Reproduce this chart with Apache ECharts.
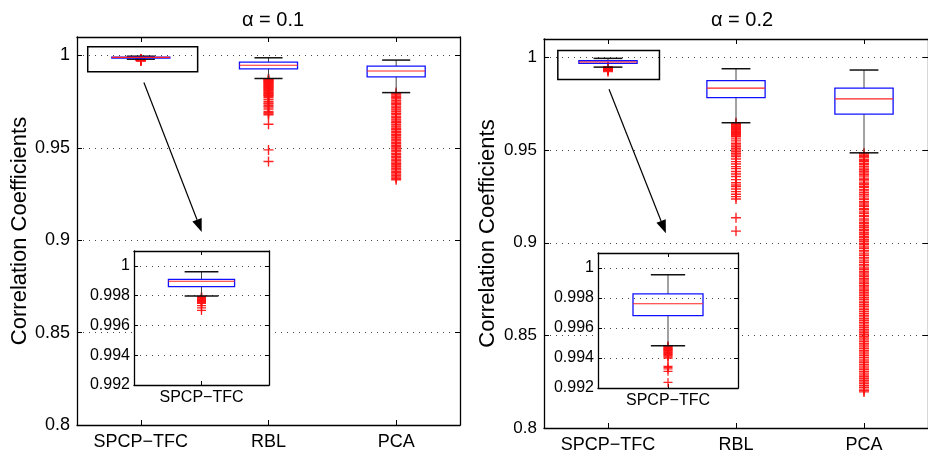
<!DOCTYPE html>
<html><head><meta charset="utf-8">
<script src="https://cdn.jsdelivr.net/npm/echarts/dist/echarts.min.js"></script>
<style>html,body{margin:0;padding:0;background:#fff}#c{width:928px;height:458px}</style>
</head><body><div id="c"></div>
<script>
// ---------------- DATA ----------------
const categories = ['SPCP\u2212TFC', 'RBL', 'PCA'];
const insetCategories = ['SPCP\u2212TFC'];
const titles = ['\u03b1 = 0.1', '\u03b1 = 0.2'];
const yAxisName = 'Correlation Coefficients';
const mainTicks = [0.8, 0.85, 0.9, 0.95, 1];
const insetTicks = [0.992, 0.994, 0.996, 0.998, 1];

// box statistics: [lower whisker, Q1, median, Q3, upper whisker]
const boxesA1 = [
  [0.99798, 0.99861, 0.99897, 0.99910, 0.99960],
  [0.98754, 0.99280, 0.99475, 0.99637, 0.99875],
  [0.97990, 0.98846, 0.99160, 0.99426, 0.99751]
];
const boxesA2 = [
  [0.99482, 0.99682, 0.99762, 0.99827, 0.99955],
  [0.96480, 0.97838, 0.98346, 0.98750, 0.99395],
  [0.94855, 0.96941, 0.97768, 0.98346, 0.99325]
];

// outliers (alpha = 0.1)
const outSpcpA1 = [0.99795, 0.99791, 0.99787, 0.99783, 0.99779, 0.99774, 0.99770, 0.99766, 0.99762, 0.99758, 0.99754, 0.99749, 0.99733, 0.99718, 0.99701];
const outRblA1 = [0.9874, 0.9871, 0.9868, 0.9865, 0.9862, 0.9859, 0.9856, 0.9852, 0.9849, 0.9845, 0.9842, 0.9838, 0.9835, 0.9831, 0.9827, 0.9823, 0.9819, 0.9815, 0.9811, 0.9807, 0.9803, 0.9799, 0.9795, 0.9791, 0.9787, 0.9783, 0.9779, 0.9772, 0.9762, 0.9751, 0.9743, 0.9737, 0.9728, 0.9721, 0.9710, 0.9697, 0.9690, 0.9684, 0.9679, 0.9628, 0.9489, 0.9426];
const outPcaA1 = [0.9799, 0.9793, 0.9786, 0.9778, 0.9771, 0.9765, 0.9757, 0.9748, 0.9741, 0.9735, 0.9726, 0.9719, 0.9710, 0.9704, 0.9696, 0.9687, 0.9681, 0.9672, 0.9666, 0.9657, 0.9651, 0.9641, 0.9636, 0.9627, 0.9619, 0.9613, 0.9604, 0.9598, 0.9589, 0.9583, 0.9574, 0.9568, 0.9559, 0.9553, 0.9544, 0.9538, 0.9529, 0.9523, 0.9514, 0.9507, 0.9499, 0.9493, 0.9484, 0.9478, 0.9469, 0.9463, 0.9454, 0.9447, 0.9439, 0.9433, 0.9424, 0.9417, 0.9410, 0.9402, 0.9396, 0.9387, 0.9381, 0.9372, 0.9365, 0.9358, 0.9350, 0.9342, 0.9335, 0.9327];

// outliers (alpha = 0.2)
const outSpcpA2 = [0.99482, 0.99478, 0.99474, 0.99470, 0.99466, 0.99462, 0.99458, 0.99454, 0.99450, 0.99446, 0.99441, 0.99436, 0.99431, 0.99425, 0.99420, 0.99414, 0.99407, 0.99400, 0.99344, 0.99338, 0.99327, 0.99311, 0.99237];
const outRblA2 = [0.9648, 0.9644, 0.9640, 0.9636, 0.9631, 0.9627, 0.9622, 0.9618, 0.9613, 0.9609, 0.9604, 0.9600, 0.9595, 0.9590, 0.9586, 0.9581, 0.9576, 0.9572, 0.9561, 0.9550, 0.9537, 0.9528, 0.9519, 0.9510, 0.9501, 0.9492, 0.9483, 0.9474, 0.9465, 0.9452, 0.9438, 0.9425, 0.9411, 0.9400, 0.9385, 0.9371, 0.9358, 0.9341, 0.9324, 0.9312, 0.9303, 0.9290, 0.9276, 0.9262, 0.9249, 0.9236, 0.9135, 0.9063];
const outPcaA2 = [0.9484, 0.9479, 0.9471, 0.9464, 0.9458, 0.9449, 0.9443, 0.9437, 0.9427, 0.9421, 0.9411, 0.9403, 0.9394, 0.9386, 0.9377, 0.9367, 0.9360, 0.9349, 0.9342, 0.9334, 0.9323, 0.9316, 0.9305, 0.9298, 0.9287, 0.9280, 0.9270, 0.9260, 0.9252, 0.9241, 0.9234, 0.9223, 0.9215, 0.9204, 0.9197, 0.9185, 0.9178, 0.9167, 0.9159, 0.9148, 0.9141, 0.9129, 0.9122, 0.9111, 0.9103, 0.9092, 0.9084, 0.9073, 0.9065, 0.9054, 0.9046, 0.9035, 0.9027, 0.9016, 0.9008, 0.8997, 0.8989, 0.8978, 0.8970, 0.8959, 0.8951, 0.8940, 0.8932, 0.8921, 0.8913, 0.8902, 0.8894, 0.8883, 0.8875, 0.8864, 0.8856, 0.8845, 0.8837, 0.8826, 0.8818, 0.8807, 0.8799, 0.8788, 0.8780, 0.8769, 0.8761, 0.8750, 0.8742, 0.8733, 0.8723, 0.8714, 0.8704, 0.8695, 0.8685, 0.8676, 0.8666, 0.8657, 0.8647, 0.8638, 0.8628, 0.8619, 0.8609, 0.8600, 0.8590, 0.8581, 0.8571, 0.8562, 0.8552, 0.8543, 0.8533, 0.8524, 0.8514, 0.8505, 0.8495, 0.8486, 0.8476, 0.8467, 0.8457, 0.8448, 0.8438, 0.8429, 0.8419, 0.8410, 0.8400, 0.8391, 0.8381, 0.8372, 0.8362, 0.8353, 0.8343, 0.8334, 0.8324, 0.8315, 0.8305, 0.8296, 0.8286, 0.8277, 0.8267, 0.8258, 0.8248, 0.8239, 0.8229, 0.8220, 0.8210, 0.8202, 0.8195];

// ---------------- LAYOUT / STYLE ----------------
const FONT = '"Liberation Sans", Arial, Helvetica, sans-serif';
const grids = [
  {left: 77, top: 37, width: 383, height: 388},   // main alpha 0.1
  {left: 134, top: 251, width: 135, height: 134}, // inset alpha 0.1
  {left: 544, top: 39, width: 387, height: 389},  // main alpha 0.2
  {left: 598, top: 253, width: 140, height: 135}  // inset alpha 0.2
];
// zoom rectangle + arrow annotations (x in category-band fractions, y in data units)
const annot = [
  {rx0: -0.416, rx1: 0.445, ryTop: 1.0047, ryBot: 0.9912, ax0: 0.024, ay0: 0.9854, ax1: 0.477, ay1: 0.9045},
  {rx0: -0.392, rx1: 0.402, ryTop: 1.0038, ryBot: 0.9881, ax0: 0.008, ay0: 0.9829, ax1: 0.452, ay1: 0.9052}
];
const PLUS = 'path://M4.3,0H5.7V4.3H10V5.7H5.7V10H4.3V5.7H0V4.3H4.3Z';
const fmt = v => String(Math.round(v * 1000) / 1000);

const xAxes = [], yAxes = [], series = [];

function addAxes(g, cats, isMain, yMin, yMax, yInt, xFs, yFs, name) {
  const z = isMain ? 0 : 4;
  const line = {show: true, onZero: false, lineStyle: {color: '#000', width: 1.3}};
  const tick = {show: true, inside: true, length: isMain ? 5 : 4, alignWithLabel: true, lineStyle: {color: '#000'}};
  xAxes.push({type: 'category', gridIndex: g, data: cats, position: 'bottom', z,
    axisLine: line, axisTick: tick,
    axisLabel: {color: '#000', fontSize: xFs, fontFamily: FONT, margin: isMain ? 8 : 5},
    splitLine: {show: false}});
  xAxes.push({type: 'category', gridIndex: g, data: cats, position: 'top', z,
    axisLine: line, axisTick: tick, axisLabel: {show: false}, splitLine: {show: false}});
  const yl = {type: 'value', gridIndex: g, min: yMin, max: yMax, interval: yInt, position: 'left', z,
    axisLine: line, axisTick: {show: true, inside: true, length: isMain ? 5 : 4, lineStyle: {color: '#000'}},
    axisLabel: {color: '#000', fontSize: yFs, fontFamily: FONT, margin: isMain ? 7 : 4, formatter: fmt, showMaxLabel: false},
    splitLine: {show: true, lineStyle: {color: '#444', type: [1, 5], width: 1}}};
  if (name) {
    Object.assign(yl, {name, nameLocation: 'middle', nameRotate: 90, nameGap: 45,
      nameTextStyle: {fontSize: 22, color: '#000', fontFamily: FONT}});
  }
  yAxes.push(yl);
  yAxes.push({type: 'value', gridIndex: g, min: yMin, max: yMax, interval: yInt, position: 'right', z,
    axisLine: line, axisTick: {show: true, inside: true, length: isMain ? 5 : 4, lineStyle: {color: '#000'}},
    axisLabel: {show: false}, splitLine: {show: false}});
}

function boxSeries(g, stats, boxFrac, capFrac, z) {
  return {type: 'custom', xAxisIndex: 2 * g, yAxisIndex: 2 * g, z, silent: true,
    data: stats.map((s, i) => [i].concat(s)),
    renderItem: (params, api) => {
      const i = api.value(0);
      const band = api.size([1, 0])[0];
      const y = v => api.coord([i, v])[1];
      const cx = api.coord([i, api.value(3)])[0];
      const yLo = y(api.value(1)), yQ1 = y(api.value(2)), yMed = y(api.value(3)), yQ3 = y(api.value(4)), yHi = y(api.value(5));
      const hb = band * boxFrac / 2, hc = band * capFrac / 2;
      const ln = (x1, y1, x2, y2, c, w) => ({type: 'line', shape: {x1, y1, x2, y2}, style: {stroke: c, lineWidth: w}});
      return {type: 'group', children: [
        ln(cx, yHi, cx, yQ3, '#444', 1),
        ln(cx, yQ1, cx, yLo, '#444', 1),
        ln(cx - hc, yHi, cx + hc, yHi, '#111', 1.5),
        ln(cx - hc, yLo, cx + hc, yLo, '#111', 1.5),
        {type: 'rect', shape: {x: cx - hb, y: yQ3, width: 2 * hb, height: Math.max(yQ1 - yQ3, 0.6)},
          style: {fill: 'none', stroke: '#1010ff', lineWidth: 1.3}},
        ln(cx - hb, yMed, cx + hb, yMed, '#ff2020', 1.1)
      ]};
    }};
}

function outlierSeries(g, cat, vals, size, z) {
  return {type: 'scatter', xAxisIndex: 2 * g, yAxisIndex: 2 * g, z, silent: true,
    symbol: PLUS, symbolSize: size, itemStyle: {color: '#ff1010', opacity: 0.92},
    data: vals.map(v => [cat, v])};
}

function coverSeries(g) {
  return {type: 'custom', xAxisIndex: 2 * g, yAxisIndex: 2 * g, z: 3, silent: true,
    data: [[0, 1]],
    renderItem: (params) => {
      const cs = params.coordSys;
      return {type: 'rect', shape: {x: cs.x, y: cs.y, width: cs.width, height: cs.height}, style: {fill: '#fff'}};
    }};
}

function annotSeries(g, a) {
  return {type: 'custom', xAxisIndex: 2 * g, yAxisIndex: 2 * g, z: 2, silent: true,
    data: [[0, a.ryTop]],
    renderItem: (params, api) => {
      const band = api.size([1, 0])[0];
      const c0 = api.coord([0, 1])[0];
      const X = f => c0 + f * band;
      const Y = v => api.coord([0, v])[1];
      const x0 = X(a.ax0), y0 = Y(a.ay0), x1 = X(a.ax1), y1 = Y(a.ay1);
      const dx = x1 - x0, dy = y1 - y0, L = Math.hypot(dx, dy);
      const ux = dx / L, uy = dy / L, hl = 13, hw = 5;
      const bx = x1 - ux * hl, by = y1 - uy * hl;
      return {type: 'group', children: [
        {type: 'rect', shape: {x: X(a.rx0), y: Y(a.ryTop), width: X(a.rx1) - X(a.rx0), height: Y(a.ryBot) - Y(a.ryTop)},
          style: {fill: 'none', stroke: '#000', lineWidth: 1.5}},
        {type: 'line', shape: {x1: x0, y1: y0, x2: bx, y2: by}, style: {stroke: '#000', lineWidth: 1.2}},
        {type: 'polygon', shape: {points: [[x1, y1], [bx - uy * hw, by + ux * hw], [bx + uy * hw, by - ux * hw]]},
          style: {fill: '#000'}}
      ]};
    }};
}

// main alpha 0.1
addAxes(0, categories, true, mainTicks[0], 1.01, 0.05, 18, 18, yAxisName);
// inset alpha 0.1
addAxes(1, insetCategories, false, insetTicks[0], 1.001, 0.002, 16, 16, null);
// main alpha 0.2
addAxes(2, categories, true, mainTicks[0], 1.01, 0.05, 18, 17, yAxisName);
// inset alpha 0.2
addAxes(3, insetCategories, false, insetTicks[0], 1.001, 0.002, 16, 16, null);

const outA1 = [outSpcpA1, outRblA1, outPcaA1];
const outA2 = [outSpcpA2, outRblA2, outPcaA2];
outA1.forEach((o, i) => series.push(outlierSeries(0, i, o, 10, 1)));
outA2.forEach((o, i) => series.push(outlierSeries(2, i, o, 10, 1)));
series.push(boxSeries(0, boxesA1, 0.455, 0.22, 2));
series.push(boxSeries(2, boxesA2, 0.455, 0.225, 2));
series.push(annotSeries(0, annot[0]));
series.push(annotSeries(2, annot[1]));
series.push(coverSeries(1));
series.push(coverSeries(3));
series.push(outlierSeries(1, 0, outSpcpA1, 9, 5));
series.push(outlierSeries(3, 0, outSpcpA2, 9, 5));
series.push(boxSeries(1, [boxesA1[0]], 0.49, 0.25, 6));
series.push(boxSeries(3, [boxesA2[0]], 0.50, 0.245, 6));

const chart = echarts.init(document.getElementById('c'), null, {renderer: 'canvas'});
chart.setOption({
  animation: false,
  backgroundColor: '#fff',
  textStyle: {fontFamily: FONT},
  title: [
    {text: titles[0], left: 268, top: 5, textAlign: 'center', textStyle: {fontSize: 20, fontWeight: 'normal', color: '#000', fontFamily: FONT}},
    {text: titles[1], left: 737, top: 5, textAlign: 'center', textStyle: {fontSize: 20, fontWeight: 'normal', color: '#000', fontFamily: FONT}}
  ],
  grid: grids.map(g => Object.assign({containLabel: false}, g)),
  xAxis: xAxes,
  yAxis: yAxes,
  series
});
</script></body></html>
